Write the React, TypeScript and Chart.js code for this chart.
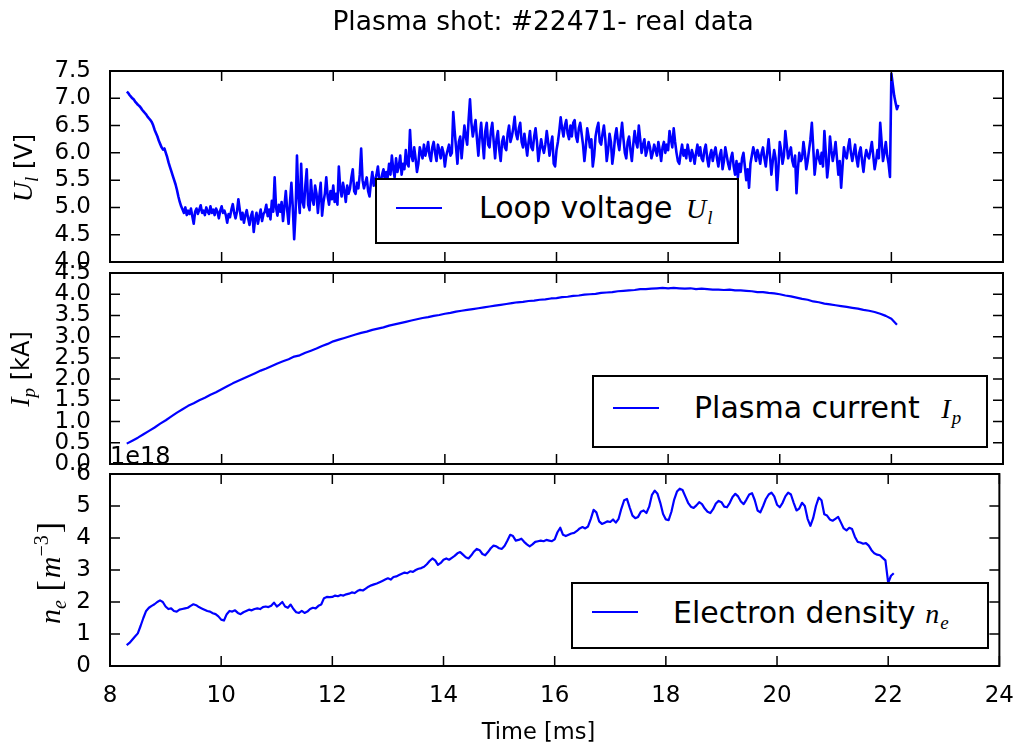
import React, { useEffect, useRef } from "react";
import { Chart, registerables } from "chart.js";

Chart.register(...registerables);

// ---------------- data ----------------
const TIME_START = 8.3; // ms, first sample of every signal
const U_STEP = 0.025; // ms between loop-voltage samples
const IP_STEP = 0.1; // ms between plasma-current samples
const NE_STEP = 0.05; // ms between density samples

// Loop voltage U_l [V]  (rows of 0.5 ms)
const loopVoltage = [
  7.12, 7.1, 7.06, 7.03, 7.0, 6.98, 6.94, 6.91, 6.88, 6.86, 6.83, 6.79, 6.76, 6.73, 6.7, 6.66, 6.63, 6.6, 6.56, 6.5,
  6.42, 6.36, 6.3, 6.22, 6.16, 6.1, 6.06, 6.08, 6.0, 5.92, 5.82, 5.74, 5.66, 5.58, 5.5, 5.42, 5.32, 5.2, 5.1, 5.02,
  4.96, 4.9, 5.0, 4.86, 4.94, 4.88, 4.98, 4.84, 4.7, 4.92, 4.98, 4.88, 4.96, 5.04, 4.9, 4.94, 4.86, 5.0, 4.92, 4.88,
  5.02, 4.9, 4.96, 4.86, 4.98, 4.92, 4.8, 4.94, 5.02, 4.9, 4.94, 4.86, 4.72, 4.88, 4.82, 4.96, 5.06, 4.9, 4.8, 4.92,
  5.15, 4.96, 4.78, 4.9, 4.72, 4.86, 4.95, 4.8, 4.68, 4.84, 4.92, 4.55, 4.78, 4.9, 4.7, 4.84, 4.96, 4.75, 4.88, 4.92,
  5.05, 4.84, 4.96, 4.78, 5.12, 4.92, 5.55, 5.0, 4.85, 5.05, 4.92, 5.1, 4.75, 5.02, 5.3, 4.95, 4.7, 5.1, 5.45, 5.0,
  4.42, 4.9, 5.95, 5.2, 4.9, 5.8, 5.1, 5.0, 5.4, 5.7, 5.05, 4.95, 5.5, 5.15, 5.05, 5.4, 5.25, 4.9, 5.2, 5.45,
  4.85, 5.1, 5.25, 5.55, 5.2, 5.05, 5.3, 5.15, 5.4, 5.1, 5.25, 5.05, 5.75, 5.35, 5.2, 5.45, 5.3, 5.1, 5.4, 5.25,
  5.35, 5.55, 5.7, 5.3, 5.25, 5.45, 5.35, 5.6, 6.08, 5.5, 5.35, 5.45, 5.55, 5.3, 5.2, 5.45, 5.65, 5.4, 5.5, 5.6,
  5.75, 5.5, 5.45, 5.6, 5.7, 5.5, 5.65, 5.55, 5.8, 5.6, 5.95, 5.7, 5.55, 5.9, 5.65, 5.75, 5.95, 5.6, 5.8, 5.7,
  6.05, 5.8, 5.75, 6.42, 5.95, 5.85, 6.1, 5.9, 5.65, 5.8, 6.1, 6.0, 5.9, 6.15, 5.95, 6.05, 6.2, 5.95, 5.85, 6.1,
  6.2, 6.0, 5.85, 6.15, 6.05, 5.9, 6.1, 6.0, 5.75, 5.95, 6.05, 6.15, 5.95, 6.0, 6.75, 6.4, 6.1, 5.8, 6.2, 6.3,
  5.9, 6.2, 6.5, 6.3, 6.15, 6.6, 6.98, 6.55, 6.3, 6.45, 6.6, 6.25, 5.95, 6.3, 6.55, 6.2, 5.9, 6.4, 6.55, 6.15,
  6.1, 6.4, 6.55, 6.2, 5.9, 6.25, 6.4, 6.05, 5.85, 6.2, 6.3, 6.1, 6.05, 6.35, 6.5, 6.2, 6.3, 6.45, 6.66, 6.35,
  6.25, 6.45, 6.55, 6.2, 6.1, 6.35, 6.15, 5.95, 6.2, 6.4, 6.1, 6.05, 6.3, 6.45, 6.2, 5.85, 6.05, 6.25, 6.1, 6.0,
  6.15, 6.4, 6.2, 5.95, 6.15, 6.3, 5.8, 5.75, 6.05, 6.2, 6.4, 6.65, 6.45, 6.3, 6.5, 6.6, 6.35, 6.25, 6.5, 6.3,
  6.55, 6.6, 6.3, 6.2, 6.45, 6.55, 6.35, 6.15, 5.85, 6.1, 6.45, 6.3, 6.1, 6.25, 5.75, 5.95, 6.3, 6.45, 6.55, 6.2,
  6.15, 6.35, 6.5, 6.25, 5.85, 6.05, 6.35, 6.2, 5.8, 6.0, 6.3, 6.45, 6.2, 6.05, 6.3, 6.55, 6.25, 6.0, 5.9, 6.2,
  6.3, 6.05, 5.85, 6.15, 6.4, 6.2, 6.1, 6.5, 6.25, 6.0, 6.15, 6.25, 5.95, 6.05, 6.2, 6.1, 5.9, 6.0, 6.15, 6.05,
  5.95, 6.2, 6.05, 5.85, 6.1, 6.2, 6.0, 6.15, 6.05, 6.4, 6.25, 6.1, 6.45, 6.2, 6.0, 5.85, 5.8, 6.0, 6.15, 5.95,
  6.05, 5.9, 6.15, 6.0, 5.85, 6.05, 5.95, 5.8, 6.0, 6.15, 5.95, 6.1, 5.9, 5.85, 6.05, 6.15, 5.9, 5.75, 5.95, 6.05,
  5.85, 6.0, 6.1, 5.9, 5.75, 5.95, 6.05, 5.7, 5.85, 6.1, 5.95, 5.8, 5.7, 5.9, 6.0, 5.75, 5.6, 5.85, 5.55, 5.8,
  5.65, 5.9, 6.0, 5.75, 5.5, 5.7, 5.36, 5.8, 5.95, 6.1, 6.0, 5.85, 6.05, 5.95, 5.8, 6.0, 6.1, 5.9, 5.75, 6.0,
  6.25, 5.95, 5.6, 5.85, 6.05, 5.9, 5.32, 5.7, 6.2, 6.05, 5.8, 5.95, 6.4, 6.15, 5.9, 6.0, 6.1, 5.85, 5.75, 5.95,
  5.26, 5.7, 6.0, 5.85, 5.9, 6.2, 6.0, 5.7, 5.85, 6.05, 6.25, 6.55, 6.1, 5.6, 5.85, 6.05, 5.9, 5.8, 6.0, 5.75,
  6.4, 6.0, 5.55, 5.8, 6.3, 6.05, 5.85, 6.0, 6.2, 5.9, 5.6, 5.85, 5.36, 5.75, 6.1, 5.95, 5.9, 6.1, 6.25, 6.0,
  5.85, 6.0, 6.15, 5.9, 5.75, 6.0, 6.1, 5.85, 5.65, 5.9, 6.05, 5.95, 5.9, 6.05, 6.2, 5.95, 5.7, 5.85, 6.05, 5.9,
  6.55, 6.2, 5.85, 6.0, 6.2, 5.95, 5.8, 5.56, 7.45, 7.25, 7.05, 6.92, 6.8, 6.88,
];

// Plasma current I_p [kA]
const plasmaCurrent = [
  0.48, 0.55, 0.62, 0.7, 0.78, 0.86, 0.95, 1.03, 1.12, 1.21,
  1.29, 1.37, 1.43, 1.5, 1.56, 1.63, 1.69, 1.76, 1.83, 1.9,
  1.96, 2.02, 2.08, 2.14, 2.2, 2.25, 2.31, 2.37, 2.42, 2.47,
  2.53, 2.56, 2.62, 2.67, 2.72, 2.78, 2.83, 2.89, 2.93, 2.97,
  3.01, 3.05, 3.09, 3.12, 3.16, 3.19, 3.22, 3.26, 3.29, 3.32,
  3.35, 3.38, 3.41, 3.44, 3.46, 3.49, 3.51, 3.54, 3.56, 3.59,
  3.61, 3.63, 3.65, 3.67, 3.69, 3.71, 3.73, 3.75, 3.77, 3.79,
  3.81, 3.82, 3.84, 3.85, 3.87, 3.88, 3.9, 3.91, 3.93, 3.94,
  3.96, 3.97, 3.99, 4.0, 4.01, 4.03, 4.04, 4.05, 4.07, 4.08,
  4.09, 4.1, 4.12, 4.12, 4.13, 4.14, 4.15, 4.14, 4.15, 4.14,
  4.13, 4.14, 4.12, 4.13, 4.12, 4.11, 4.11, 4.1, 4.11, 4.09,
  4.09, 4.08, 4.07, 4.05, 4.05, 4.03, 4.02, 4.0, 3.97, 3.95,
  3.92, 3.89, 3.87, 3.83, 3.81, 3.78, 3.76, 3.74, 3.72, 3.7,
  3.68, 3.66, 3.63, 3.61, 3.58, 3.54, 3.49, 3.42, 3.28,
];

// Electron density n_e [1e18 m^-3]
const electronDensity = [
  0.65, 0.72, 0.82, 0.92, 1.02, 1.25, 1.5, 1.72, 1.82, 1.88, 1.93, 2.0, 2.05, 2.0, 1.86, 1.78, 1.8, 1.72, 1.7, 1.76,
  1.78, 1.8, 1.82, 1.88, 1.93, 1.9, 1.84, 1.8, 1.76, 1.72, 1.7, 1.65, 1.62, 1.55, 1.45, 1.42, 1.62, 1.72, 1.7, 1.74,
  1.66, 1.62, 1.68, 1.72, 1.76, 1.74, 1.78, 1.8, 1.78, 1.84, 1.86, 1.84, 1.88, 1.98, 1.86, 1.92, 2.0, 1.86, 1.82, 1.92,
  1.78, 1.68, 1.66, 1.72, 1.66, 1.7, 1.78, 1.82, 1.8, 1.88, 1.92, 2.12, 2.16, 2.15, 2.16, 2.2, 2.18, 2.22, 2.2, 2.24,
  2.26, 2.3, 2.28, 2.34, 2.38, 2.36, 2.42, 2.48, 2.52, 2.55, 2.58, 2.62, 2.66, 2.7, 2.74, 2.7, 2.78, 2.8, 2.84, 2.88,
  2.92, 2.9, 2.96, 2.94, 3.0, 3.04, 3.06, 3.1, 3.18, 3.28, 3.36, 3.3, 3.16, 3.22, 3.32, 3.36, 3.32, 3.38, 3.44, 3.52,
  3.56, 3.48, 3.4, 3.36, 3.46, 3.58, 3.66, 3.62, 3.5, 3.46, 3.56, 3.68, 3.76, 3.74, 3.68, 3.66, 3.76, 3.92, 4.1, 4.06,
  3.92, 3.94, 3.98, 3.88, 3.8, 3.74, 3.8, 3.88, 3.9, 3.92, 3.9, 3.94, 3.92, 3.9, 3.96, 4.18, 4.32, 4.1, 4.06, 4.1,
  4.14, 4.16, 4.22, 4.3, 4.34, 4.3, 4.36, 4.6, 4.88, 4.8, 4.52, 4.44, 4.48, 4.52, 4.5, 4.58, 4.48, 4.6, 4.92, 5.18,
  5.22, 4.95, 4.7, 4.62, 4.66, 4.82, 4.86, 4.78, 4.98, 5.35, 5.48, 5.38, 5.1, 4.75, 4.58, 4.56, 4.82, 5.2, 5.45, 5.54,
  5.5, 5.3, 5.1, 4.98, 4.94, 5.02, 5.12, 5.06, 4.92, 4.82, 4.78, 4.9, 5.08, 5.16, 5.12, 4.98, 4.96, 5.1, 5.28, 5.38,
  5.3, 5.14, 5.06, 5.2, 5.36, 5.4, 5.18, 4.86, 4.8, 5.0, 5.22, 5.36, 5.42, 5.3, 5.04, 4.96, 5.1, 5.3, 5.42, 5.36,
  5.1, 4.86, 4.92, 5.1, 5.0, 4.6, 4.38, 4.62, 5.0, 5.26, 5.18, 4.74, 4.7, 4.58, 4.54, 4.6, 4.66, 4.48, 4.3, 4.24,
  4.32, 4.28, 4.04, 3.88, 3.86, 3.82, 3.84, 3.76, 3.62, 3.52, 3.48, 3.46, 3.38, 3.3, 2.6, 2.82, 2.9,
];

// tick values
const timeTicks = [8, 10, 12, 14, 16, 18, 20, 22, 24];
const voltageTicks = [4.0, 4.5, 5.0, 5.5, 6.0, 6.5, 7.0, 7.5];
const currentTicks = [0.0, 0.5, 1.0, 1.5, 2.0, 2.5, 3.0, 3.5, 4.0, 4.5];
const densityTicks = [0, 1, 2, 3, 4, 5, 6];

// ---------------- layout ----------------
const W = 1022;
const H = 745;
const PLOT_LEFT = 110;
const PLOT_RIGHT = 1003;
const BLUE = "#0000ff";
const SANS = "'DejaVu Sans', sans-serif";
const SERIF = "'Liberation Serif', 'DejaVu Serif', serif";

type PanelDef = {
  values: number[];
  step: number;
  top: number;
  bottom: number;
  yTicks: number[];
  decimals: number;
  showX: boolean;
  lineWidth: number;
};

const panels: PanelDef[] = [
  { values: loopVoltage, step: U_STEP, top: 71, bottom: 262, yTicks: voltageTicks, decimals: 1, showX: false, lineWidth: 2.6 },
  { values: plasmaCurrent, step: IP_STEP, top: 273, bottom: 464, yTicks: currentTicks, decimals: 1, showX: false, lineWidth: 2.2 },
  { values: electronDensity, step: NE_STEP, top: 474, bottom: 666, yTicks: densityTicks, decimals: 0, showX: true, lineWidth: 2.2 },
];

const frameTicksPlugin = {
  id: "frameTicks",
  afterDatasetsDraw(chart: any) {
    const { ctx, chartArea: a, scales } = chart;
    const xs = scales.x;
    const ys = scales.y;
    const TL = 10;
    ctx.save();
    ctx.strokeStyle = "#000";
    ctx.lineWidth = 1.5;
    ctx.beginPath();
    xs.ticks.forEach((t: any) => {
      const p = xs.getPixelForValue(t.value);
      ctx.moveTo(p, a.bottom);
      ctx.lineTo(p, a.bottom - TL);
      ctx.moveTo(p, a.top);
      ctx.lineTo(p, a.top + TL);
    });
    ys.ticks.forEach((t: any) => {
      const p = ys.getPixelForValue(t.value);
      ctx.moveTo(a.left, p);
      ctx.lineTo(a.left + TL, p);
      ctx.moveTo(a.right, p);
      ctx.lineTo(a.right - TL, p);
    });
    ctx.stroke();
    ctx.lineWidth = 2;
    ctx.strokeRect(a.left, a.top, a.right - a.left, a.bottom - a.top);
    ctx.restore();
  },
};

function PanelChart({ def }: { def: PanelDef }) {
  const ref = useRef<HTMLCanvasElement>(null);
  useEffect(() => {
    const pts = def.values.map((v, i) => ({ x: TIME_START + i * def.step, y: v }));
    const yMin = def.yTicks[0];
    const yMax = def.yTicks[def.yTicks.length - 1];
    const chart = new Chart(ref.current as HTMLCanvasElement, {
      type: "line",
      data: {
        datasets: [
          {
            data: pts,
            borderColor: BLUE,
            borderWidth: def.lineWidth,
            pointRadius: 0,
            fill: false,
            tension: 0,
            borderJoinStyle: "round",
          } as any,
        ],
      },
      options: {
        responsive: false,
        animation: false,
        events: [],
        layout: {
          padding: {
            left: 0,
            right: W - PLOT_RIGHT,
            top: def.top,
            bottom: def.showX ? 0 : H - def.bottom,
          },
        },
        plugins: {
          legend: { display: false },
          tooltip: { enabled: false },
          title: { display: false },
        },
        scales: {
          x: {
            type: "linear",
            min: timeTicks[0],
            max: timeTicks[timeTicks.length - 1],
            grid: { display: false },
            border: { display: false },
            afterBuildTicks: (s: any) => {
              s.ticks = timeTicks.map((v) => ({ value: v }));
            },
            afterFit: (s: any) => {
              s.height = def.showX ? H - def.bottom : 0;
            },
            ticks: {
              display: def.showX,
              autoSkip: false,
              maxRotation: 0,
              padding: 8,
              color: "#000",
              font: { family: SANS, size: 23 },
              callback: (v: any) => String(v),
            },
          },
          y: {
            type: "linear",
            min: yMin,
            max: yMax,
            grid: { display: false },
            border: { display: false },
            afterBuildTicks: (s: any) => {
              s.ticks = def.yTicks.map((v) => ({ value: v }));
            },
            afterFit: (s: any) => {
              s.width = PLOT_LEFT;
            },
            ticks: {
              autoSkip: false,
              padding: 11,
              color: "#000",
              font: { family: SANS, size: 23 },
              callback: (v: any) => Number(v).toFixed(def.decimals),
            },
          },
        },
      } as any,
      plugins: [frameTicksPlugin],
    });
    return () => chart.destroy();
  }, [def]);
  return (
    <canvas
      ref={ref}
      width={W}
      height={H}
      style={{ position: "absolute", left: 0, top: 0, width: W, height: H }}
    />
  );
}

const mathStyle: React.CSSProperties = { fontFamily: SERIF, fontStyle: "italic" };

function Legend(props: {
  left: number;
  top: number;
  width: number;
  height: number;
  lineTop: number;
  textTop: number;
  textLeft: number;
  text: string;
  sym: string;
  sub: string;
  symGap: number;
}) {
  return (
    <div
      style={{
        position: "absolute",
        left: props.left,
        top: props.top,
        width: props.width,
        height: props.height,
        boxSizing: "border-box",
        border: "2px solid #000",
        background: "#fff",
      }}
    >
      <div
        style={{ position: "absolute", left: 19, top: props.lineTop, width: 46, height: 2, background: BLUE }}
      />
      <div
        style={{
          position: "absolute",
          left: props.textLeft,
          top: props.textTop,
          fontFamily: SANS,
          fontSize: 30,
          lineHeight: 1,
          whiteSpace: "nowrap",
          color: "#000",
        }}
      >
        {props.text}
        <span style={{ ...mathStyle, fontSize: 28, marginLeft: props.symGap }}>{props.sym}</span>
        <span style={{ ...mathStyle, fontSize: 19, position: "relative", top: 6, marginLeft: 1 }}>{props.sub}</span>
      </div>
    </div>
  );
}

function YLabel({ cx, cy, children }: { cx: number; cy: number; children: React.ReactNode }) {
  return (
    <div
      style={{
        position: "absolute",
        left: cx,
        top: cy,
        transform: "translate(-50%, -50%) rotate(-90deg)",
        whiteSpace: "nowrap",
        fontFamily: SANS,
        fontSize: 24,
        lineHeight: 1,
        color: "#000",
      }}
    >
      {children}
    </div>
  );
}

export default function App() {
  return (
    <div
      style={{
        position: "fixed",
        left: 0,
        top: 0,
        width: W,
        height: H,
        background: "#fff",
        overflow: "hidden",
      }}
    >
      {panels.map((p, i) => (
        <PanelChart key={i} def={p} />
      ))}

      <div
        style={{
          position: "absolute",
          left: 543,
          top: 7.6,
          transform: "translateX(-50%)",
          fontFamily: SANS,
          fontSize: 26.5,
          lineHeight: 1,
          whiteSpace: "nowrap",
          color: "#000",
        }}
      >
        Plasma shot: #22471- real data
      </div>

      <div
        style={{
          position: "absolute",
          left: 538.5,
          top: 720,
          transform: "translateX(-50%)",
          fontFamily: SANS,
          fontSize: 22.5,
          lineHeight: 1,
          whiteSpace: "nowrap",
          color: "#000",
        }}
      >
        Time [ms]
      </div>

      <div
        style={{
          position: "absolute",
          left: 110,
          top: 444,
          fontFamily: SANS,
          fontSize: 24,
          lineHeight: 1,
          whiteSpace: "nowrap",
          color: "#000",
        }}
      >
        1e18
      </div>

      <YLabel cx={23} cy={168}>
        <span style={{ ...mathStyle, fontSize: 28 }}>U</span>
        <span style={{ ...mathStyle, fontSize: 19, position: "relative", top: 6 }}>l</span>
        <span> [V]</span>
      </YLabel>
      <YLabel cx={20} cy={369}>
        <span style={{ ...mathStyle, fontSize: 28 }}>I</span>
        <span style={{ ...mathStyle, fontSize: 19, position: "relative", top: 6 }}>p</span>
        <span> [kA]</span>
      </YLabel>
      <YLabel cx={49} cy={573}>
        <span style={{ ...mathStyle, fontSize: 30 }}>n</span>
        <span style={{ ...mathStyle, fontSize: 20, position: "relative", top: 6 }}>e</span>
        <span style={{ fontFamily: SERIF, fontSize: 34 }}>&nbsp;[</span>
        <span style={{ ...mathStyle, fontSize: 30, marginLeft: 2 }}>m</span>
        <span style={{ fontFamily: SERIF, fontSize: 20, position: "relative", top: -12 }}>−3</span>
        <span style={{ fontFamily: SERIF, fontSize: 34, marginLeft: 2 }}>]</span>
      </YLabel>

      <Legend
        left={375}
        top={178}
        width={364}
        height={66}
        lineTop={27}
        textTop={12.6}
        textLeft={102}
        text="Loop voltage "
        sym="U"
        sub="l"
        symGap={4}
      />
      <Legend
        left={592}
        top={375}
        width={396}
        height={73}
        lineTop={30}
        textTop={15.6}
        textLeft={100}
        text="Plasma current "
        sym="I"
        sub="p"
        symGap={12}
      />
      <Legend
        left={571}
        top={582}
        width={418}
        height={67}
        lineTop={27}
        textTop={13.6}
        textLeft={100}
        text="Electron density "
        sym="n"
        sub="e"
        symGap={0}
      />
    </div>
  );
}
